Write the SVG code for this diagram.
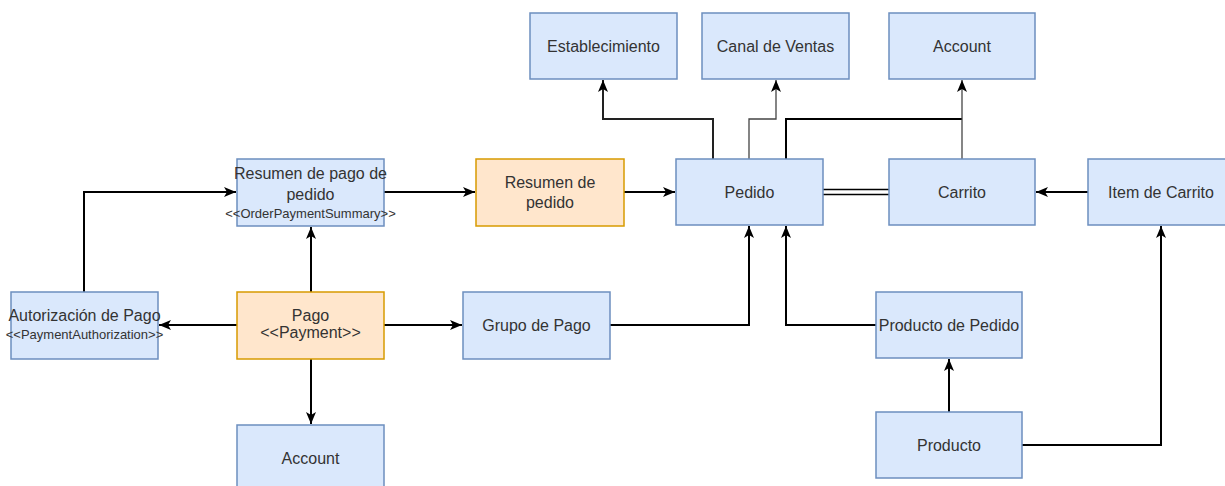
<svg xmlns="http://www.w3.org/2000/svg" width="1225" height="486" viewBox="0 0 1225 486">
  <style>
    .blue { fill: #dae8fc; stroke: #6c8ebf; stroke-width: 1.5; }
    .orange { fill: #ffe6cc; stroke: #d79b00; stroke-width: 1.5; }
    text { font-family: "Liberation Sans", Arial, sans-serif; font-size: 16px; fill: #333; text-anchor: middle; }
    text.small { font-size: 13px; }
    .edge { fill: none; stroke: #000; stroke-width: 2; }
    .thin { fill: none; stroke: #444; stroke-width: 1.3; }
  </style>
  <defs>
    <marker id="arrow" markerUnits="userSpaceOnUse" markerWidth="13" markerHeight="11" refX="12" refY="5" orient="auto">
      <path d="M0,0 L12,5 L0,10 L3,5 Z" fill="#000"/>
    </marker>
  </defs>

  <!-- connectors -->
  <g id="connectors">
    <path class="edge" d="M84,292 V192 H236" marker-end="url(#arrow)"/>
    <path class="edge" d="M311,292 V227" marker-end="url(#arrow)"/>
    <path class="edge" d="M237,325 H159" marker-end="url(#arrow)"/>
    <path class="edge" d="M384,325 H462" marker-end="url(#arrow)"/>
    <path class="edge" d="M311,359 V424" marker-end="url(#arrow)"/>
    <path class="edge" d="M384,192 H475" marker-end="url(#arrow)"/>
    <path class="edge" d="M624,192 H675" marker-end="url(#arrow)"/>
    <path class="edge" d="M610,325 H749 V226" marker-end="url(#arrow)"/>
    <path class="edge" d="M876,325 H786 V226" marker-end="url(#arrow)"/>
    <path class="edge" d="M949,412 V359" marker-end="url(#arrow)"/>
    <path class="edge" d="M1022,445 H1161 V226" marker-end="url(#arrow)"/>
    <path class="edge" d="M1088,192 H1036" marker-end="url(#arrow)"/>
    <!-- Pedido / Carrito double link -->
    <path class="edge" style="stroke-width:1.5" d="M823,189.5 H889 M823,194.5 H889"/>
    <path class="edge" style="stroke:#222" d="M713,159 V119 H603 V80" marker-end="url(#arrow)"/>
    <path class="thin" d="M749,159 V119 H776 V80" marker-end="url(#arrow)"/>
    <path class="edge" d="M786,159 V119 H962"/>
    <path class="thin" d="M962,159 V80" marker-end="url(#arrow)"/>
  </g>

  <!-- nodes -->
  <g id="establecimiento">
    <rect class="blue" x="530" y="13" width="147" height="66"/>
    <text x="603.5" y="52">Establecimiento</text>
  </g>
  <g id="canal-ventas">
    <rect class="blue" x="702" y="13" width="147" height="66"/>
    <text x="775.5" y="52">Canal de Ventas</text>
  </g>
  <g id="account-top">
    <rect class="blue" x="889" y="13" width="146" height="66"/>
    <text x="962" y="52">Account</text>
  </g>
  <g id="resumen-pago">
    <rect class="blue" x="237" y="159" width="147" height="67"/>
    <text x="310.5" y="179">Resumen de pago de</text>
    <text x="310.5" y="200">pedido</text>
    <text class="small" x="310.5" y="218">&lt;&lt;OrderPaymentSummary&gt;&gt;</text>
  </g>
  <g id="resumen-pedido">
    <rect class="orange" x="476" y="159" width="148" height="67"/>
    <text x="550" y="188">Resumen de</text>
    <text x="550" y="208">pedido</text>
  </g>
  <g id="pedido">
    <rect class="blue" x="676" y="159" width="147" height="66"/>
    <text x="749.5" y="198">Pedido</text>
  </g>
  <g id="carrito">
    <rect class="blue" x="889" y="159" width="146" height="66"/>
    <text x="962" y="198">Carrito</text>
  </g>
  <g id="item-carrito">
    <rect class="blue" x="1088" y="159" width="146" height="66"/>
    <text x="1161" y="198">Item de Carrito</text>
  </g>
  <g id="autorizacion-pago">
    <rect class="blue" x="11" y="292" width="147" height="67"/>
    <text x="84.5" y="321">Autorización de Pago</text>
    <text class="small" x="84.5" y="339">&lt;&lt;PaymentAuthorization&gt;&gt;</text>
  </g>
  <g id="pago">
    <rect class="orange" x="237" y="292" width="147" height="67"/>
    <text x="310.5" y="321">Pago</text>
    <text x="310.5" y="338">&lt;&lt;Payment&gt;&gt;</text>
  </g>
  <g id="grupo-pago">
    <rect class="blue" x="463" y="292" width="147" height="67"/>
    <text x="536.5" y="331">Grupo de Pago</text>
  </g>
  <g id="producto-pedido">
    <rect class="blue" x="876" y="292" width="146" height="66"/>
    <text x="949" y="331">Producto de Pedido</text>
  </g>
  <g id="producto">
    <rect class="blue" x="876" y="412" width="146" height="66"/>
    <text x="949" y="451">Producto</text>
  </g>
  <g id="account-bottom">
    <rect class="blue" x="237" y="425" width="147" height="67"/>
    <text x="310.5" y="464">Account</text>
  </g>
</svg>
